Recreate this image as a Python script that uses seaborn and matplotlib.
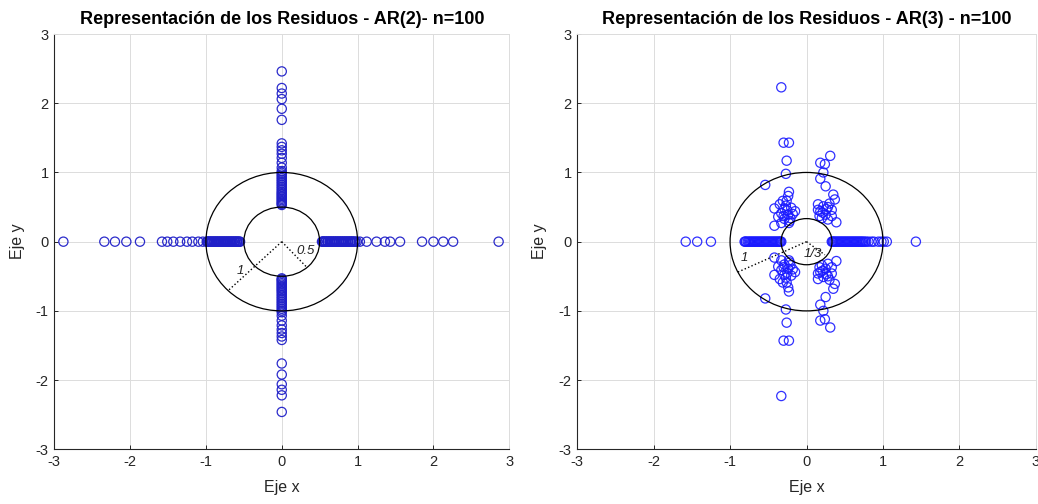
import matplotlib
matplotlib.use("Agg")
import matplotlib.pyplot as plt
from matplotlib.patches import Circle
import seaborn as sns
import pandas as pd

# ---------------- data: AR(2) ----------------
ar2_real_x = [-2.88, -2.34, -2.20, -2.05, -1.87, -1.58, -1.51, -1.43, -1.34, -1.25, -1.18,
              -1.10, -1.04, -0.99, -0.96, -0.93, -0.90, -0.87, -0.84, -0.81, -0.78, -0.75,
              -0.72, -0.69, -0.66, -0.63, -0.60, -0.57, -0.55,
              -0.98, -0.95, -0.92, -0.89, -0.86, -0.83, -0.80, -0.77, -0.74, -0.71, -0.68,
              -0.65, -0.62, -0.59, -0.56, -0.975, -0.945, -0.915, -0.885, -0.855, -0.825,
              -0.795, -0.765, -0.735, -0.705, -0.675, -0.645, -0.615, -0.585,
              0.53, 0.55, 0.58, 0.61, 0.64, 0.67, 0.70, 0.73, 0.76, 0.79, 0.82, 0.85, 0.88,
              0.91, 0.94, 0.97, 1.03, 1.12, 1.25, 1.36, 1.43, 1.56, 1.85, 2.00, 2.13, 2.26, 2.86,
              0.54, 0.57, 0.60, 0.63, 0.66, 0.69, 0.72, 0.75, 0.78, 0.81, 0.84, 0.87, 0.90,
              0.93, 0.96, 0.545, 0.575, 0.605, 0.635, 0.665, 0.695, 0.725, 0.755, 0.785,
              0.815, 0.845, 0.875, 0.905, 0.935, 0.99]
ar2_imag_up = [2.46, 2.22, 2.14, 2.06, 1.92, 1.76, 1.42, 1.37, 1.32, 1.27, 1.21, 1.14, 1.07,
               1.02, 0.97, 0.92, 0.87, 0.82, 0.77, 0.72, 0.68, 0.64, 0.60, 0.56, 0.53,
               0.995, 0.945, 0.895, 0.845, 0.795, 0.745, 0.70, 0.66, 0.62, 0.58, 0.545]
ar2_imag_dn = [-2.46, -2.22, -2.14, -2.06, -1.92, -1.76, -1.42, -1.37, -1.32, -1.27, -1.21,
               -1.14, -1.07, -1.02, -0.97, -0.92, -0.87, -0.82, -0.77, -0.72, -0.68, -0.64,
               -0.60, -0.56, -0.53,
               -0.995, -0.945, -0.895, -0.845, -0.795, -0.745, -0.70, -0.66, -0.62, -0.58,
               -0.545]

# ---------------- data: AR(3) ----------------
ar3_real_x = [-1.58, -1.43, -1.25, -0.81, -0.79, -0.77, -0.74, -0.71, -0.68, -0.65, -0.62,
              -0.59, -0.56, -0.53, -0.50, -0.47, -0.44, -0.41, -0.38, -0.35, -0.33,
              -0.80, -0.755, -0.725, -0.695, -0.665, -0.635, -0.605, -0.575, -0.545, -0.515,
              -0.485, -0.455, -0.425, -0.395, -0.365, -0.34,
              0.33, 0.35, 0.38, 0.41, 0.44, 0.47, 0.50, 0.53, 0.56, 0.59, 0.62, 0.65, 0.68,
              0.71, 0.74, 0.81, 0.85, 0.88, 0.94, 0.98, 1.01, 1.05, 1.43,
              0.34, 0.365, 0.395, 0.425, 0.455, 0.485, 0.515, 0.545, 0.575, 0.605, 0.635,
              0.665, 0.695, 0.725, 0.76, 0.78]
ar3_cplx_x = [-0.33, -0.30, -0.23, -0.26, -0.27, -0.54, -0.23, -0.24, -0.26, -0.31, -0.35,
              -0.42, -0.29, -0.20, -0.33, -0.24, -0.15, -0.37, -0.29, -0.21, -0.42, -0.33, -0.23,
              -0.27, -0.25, -0.30, -0.22, -0.18,
              0.31, 0.18, 0.24, 0.22, 0.18, 0.25, 0.35, 0.37, 0.15, 0.22, 0.28, 0.33, 0.18,
              0.25, 0.33, 0.20, 0.28, 0.39, 0.15, 0.21, 0.26, 0.30, 0.17]
ar3_cplx_up = [2.23, 1.43, 1.43, 1.17, 0.98, 0.82, 0.72, 0.66, 0.59, 0.59, 0.54,
               0.48, 0.48, 0.49, 0.41, 0.39, 0.44, 0.36, 0.33, 0.34, 0.23, 0.27, 0.27,
               0.52, 0.45, 0.37, 0.30, 0.40,
               1.24, 1.14, 1.12, 1.00, 0.91, 0.80, 0.68, 0.61, 0.54, 0.51, 0.50, 0.46, 0.44,
               0.39, 0.37, 0.34, 0.32, 0.28, 0.46, 0.42, 0.47, 0.55, 0.37]
ar3_cplx_dn = [-2.23, -1.43, -1.43, -1.17, -0.98, -0.82, -0.72, -0.66, -0.59, -0.59, -0.54,
               -0.48, -0.48, -0.49, -0.41, -0.39, -0.44, -0.36, -0.33, -0.34, -0.23, -0.27, -0.27,
               -0.52, -0.45, -0.37, -0.30, -0.40,
               -1.24, -1.14, -1.12, -1.00, -0.91, -0.80, -0.68, -0.61, -0.54, -0.51, -0.50, -0.46,
               -0.44, -0.39, -0.37, -0.34, -0.32, -0.28, -0.46, -0.42, -0.47, -0.55, -0.37]

ticks = [-3, -2, -1, 0, 1, 2, 3]
titles = ["Representación de los Residuos - AR(2)- n=100",
          "Representación de los Residuos - AR(3) - n=100"]

# ---------------- build frames ----------------
df2 = pd.DataFrame({
    "x": ar2_real_x + [0.0] * len(ar2_imag_up) + [0.0] * len(ar2_imag_dn),
    "y": [0.0] * len(ar2_real_x) + ar2_imag_up + ar2_imag_dn,
})
df3 = pd.DataFrame({
    "x": ar3_real_x + ar3_cplx_x + ar3_cplx_x,
    "y": [0.0] * len(ar3_real_x) + ar3_cplx_up + ar3_cplx_dn,
})

sns.set_theme(style="white")
plt.rcParams["font.family"] = ["Liberation Sans", "DejaVu Sans"]
plt.rcParams["axes.unicode_minus"] = False

fig = plt.figure(figsize=(10.38, 5.04), dpi=100)
ax1 = fig.add_axes([0.0523, 0.1085, 0.4383, 0.824])
ax2 = fig.add_axes([0.5560, 0.1085, 0.4420, 0.824])

grid_c = "#dcdcdc"
spine_c = "#262626"

def style(ax, title):
    ax.set_xlim(-3, 3)
    ax.set_ylim(-3, 3)
    ax.set_xticks(ticks)
    ax.set_yticks(ticks)
    ax.grid(True, color=grid_c, linewidth=0.7)
    ax.set_axisbelow(True)
    for s in ["top", "right"]:
        ax.spines[s].set_color(grid_c)
        ax.spines[s].set_linewidth(0.7)
    for s in ["left", "bottom"]:
        ax.spines[s].set_color(spine_c)
        ax.spines[s].set_linewidth(0.8)
    ax.tick_params(direction="in", length=3, width=0.7, colors=spine_c,
                   labelsize=10.5, pad=4, top=False, right=False, left=True, bottom=True)
    ax.set_xlabel("Eje x", fontsize=11.5, color=spine_c, labelpad=8)
    ax.set_ylabel("Eje y", fontsize=11.5, color=spine_c, labelpad=8)
    ax.set_title(title, fontsize=13, fontweight="bold", color="black", pad=7)

# left
sns.scatterplot(data=df2, x="x", y="y", ax=ax1, marker="o", s=44,
                facecolor="none", edgecolor="#2020c8", linewidth=0.9, alpha=0.95, legend=False)
ax1.add_patch(Circle((0, 0), 1.0, fill=False, color="black", lw=0.9))
ax1.add_patch(Circle((0, 0), 0.5, fill=False, color="black", lw=0.9))
ax1.plot([0, -0.7], [0, -0.7], ":", color="black", lw=1.0)
ax1.plot([0, 0.33], [0, -0.37], ":", color="black", lw=1.0)
ax1.text(-0.60, -0.43, "1", fontsize=9.5, style="italic", ha="left", va="center", color="#222222")
ax1.text(0.19, -0.13, "0.5", fontsize=9.5, style="italic", ha="left", va="center", color="#222222")
style(ax1, titles[0])

# right
sns.scatterplot(data=df3, x="x", y="y", ax=ax2, marker="o", s=44,
                facecolor="none", edgecolor="#1a1aff", linewidth=0.9, alpha=0.9, legend=False)
ax2.add_patch(Circle((0, 0), 1.0, fill=False, color="black", lw=0.9))
ax2.add_patch(Circle((0, 0), 1 / 3, fill=False, color="black", lw=0.9))
ax2.plot([0, -0.9], [0, -0.44], ":", color="black", lw=1.0)
ax2.plot([0, 0.24], [0, -0.19], ":", color="black", lw=1.0)
ax2.text(-0.86, -0.24, "1", fontsize=9.5, style="italic", ha="left", va="center", color="#222222")
ax2.text(-0.04, -0.18, "1/3", fontsize=9.5, style="italic", ha="left", va="center", color="#222222")
style(ax2, titles[1])

fig.savefig("out.png", dpi=100)
